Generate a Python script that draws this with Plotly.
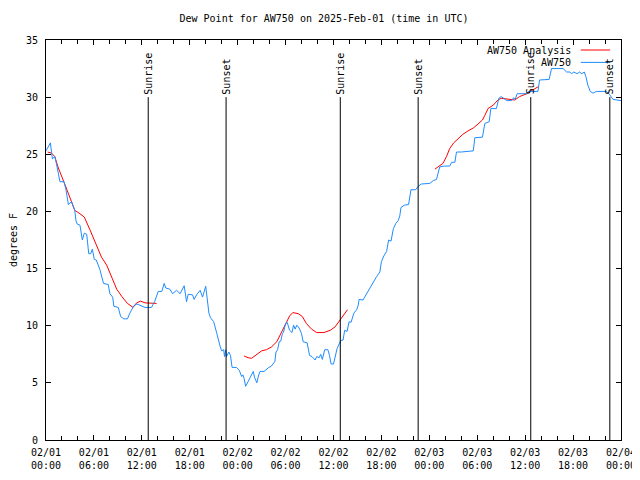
import pandas as pd
import plotly.graph_objects as go

title_text = "Dew Point for AW750 on 2025-Feb-01 (time in UTC)"
start = pd.Timestamp("2025-02-01 00:00")

# AW750 observations (hours since start, degrees F)
obs_hours = [0.0, 0.3, 0.55, 0.8, 1.1, 1.3, 1.75, 2.25, 2.5, 2.8, 3.2, 3.6, 3.75, 3.9, 4.25, 4.55, 4.8, 5.1,
             5.35, 5.6, 5.8, 6.05, 6.3, 6.75, 7.2, 7.8, 8.0, 8.35, 8.5, 9.05, 9.35, 9.75, 10.2, 10.5, 11.0,
             11.4, 12.0, 12.4, 13.2, 13.6, 14.05, 14.5, 14.8, 15.0, 15.5, 15.85, 16.35, 16.8, 17.3, 17.6,
             17.8, 18.35, 18.55, 18.85, 19.3, 19.6, 20.0, 20.2, 20.4, 20.6, 21.0, 21.4, 21.55, 21.8, 22.0,
             22.25, 22.35, 22.5, 22.6, 22.9, 23.1, 23.3, 23.85, 24.2, 24.5, 24.65, 24.8, 25.0, 25.3, 25.6,
             25.95, 26.1, 26.4, 26.6, 26.8, 27.3, 27.6, 27.9, 28.2, 28.65, 28.8, 29.0, 29.2, 29.4, 29.6,
             29.75, 30.0, 30.2, 30.5, 30.8, 31.0, 31.2, 31.4, 31.7, 32.0, 32.2, 32.7, 33.0, 33.3, 33.7,
             33.9, 34.2, 34.4, 34.6, 34.9, 35.3, 35.5, 35.7, 36.0, 36.2, 36.45, 36.7, 36.9, 37.2, 37.4,
             37.7, 37.95, 38.2, 38.55, 38.9, 39.1, 39.2, 39.7, 39.9, 40.15, 40.55, 40.95, 41.4, 41.8, 42.0,
             42.3, 42.65, 42.9, 43.2, 43.5, 43.8, 44.1, 44.3, 44.45, 44.9, 45.4, 45.7, 46.3, 46.6, 47.0,
             48.05, 48.5, 48.9, 49.3, 49.9, 50.55, 50.8, 51.2, 51.4, 52.0, 53.5, 53.7, 54.65, 54.95, 55.5,
             55.7, 56.4, 56.7, 57.0, 57.3, 57.7, 58.3, 58.55, 58.75, 59.0, 60.2, 60.4, 61.6, 61.8, 63.0,
             63.2, 63.3, 64.75, 65.2, 65.6, 65.8, 66.1, 66.5, 66.8, 67.1, 67.4, 67.6, 67.85, 68.15, 68.5,
             68.9, 70.2, 70.6, 71.0, 71.4, 71.75, 72.0]
obs_values = [25.3, 25.7, 26.0, 24.6, 24.8, 24.2, 22.6, 22.6, 21.9, 20.6, 20.85, 20.1, 19.2, 18.9, 18.8, 17.5,
              18.1, 18.0, 16.3, 16.3, 16.7, 15.8, 15.75, 14.9, 13.7, 13.6, 12.8, 12.5, 11.7, 11.6, 10.8,
              10.6, 10.6, 11.1, 11.75, 11.9, 11.75, 11.6, 11.6, 12.1, 13.0, 13.0, 13.7, 13.3, 13.2, 12.8,
              13.1, 12.8, 13.5, 12.1, 12.75, 12.7, 12.3, 12.7, 13.1, 12.5, 13.45, 12.0, 11.1, 10.7, 10.35,
              9.3, 8.8, 8.2, 7.8, 7.9, 7.3, 7.9, 7.3, 7.7, 7.4, 6.35, 6.35, 6.1, 5.55, 5.7, 5.4, 4.7, 5.1,
              5.55, 6.0, 5.5, 5.0, 5.6, 6.0, 6.0, 6.2, 6.35, 6.45, 6.85, 7.7, 7.9, 8.6, 8.65, 9.3, 9.45,
              10.2, 10.3, 9.6, 9.4, 10.05, 9.7, 10.05, 9.8, 9.3, 8.6, 8.5, 7.4, 7.3, 7.0, 7.3, 7.2, 7.5,
              7.05, 7.9, 7.9, 7.4, 6.65, 6.65, 7.35, 8.0, 8.4, 8.7, 8.75, 9.6, 9.5, 10.35, 10.3, 11.1,
              11.4, 11.8, 12.3, 12.25, 12.5, 12.8, 13.4, 13.8, 14.3, 14.7, 15.6, 16.1, 16.5, 17.5, 17.4,
              18.5, 18.95, 19.2, 19.6, 20.35, 20.55, 20.6, 21.9, 21.9, 22.2, 22.4, 22.45, 22.7, 22.8, 23.9,
              23.97, 23.97, 24.3, 24.3, 25.2, 25.2, 25.3, 26.45, 26.5, 27.7, 27.85, 29.0, 29.0, 29.9,
              30.05, 29.9, 29.7, 29.7, 29.95, 29.8, 30.3, 30.3, 30.5, 30.5, 31.5, 31.55, 32.2, 32.5, 32.5,
              32.2, 32.2, 32.05, 32.2, 32.05, 32.2, 32.05, 32.2, 31.8, 31.05, 30.5, 30.35, 30.5, 30.5,
              30.2, 29.8, 29.75, 29.7, 29.7]

# AW750 Analysis (None marks a gap)
ana_hours = [0.2, 0.7, 1.1, 1.55, 2.4, 3.0, 3.6, 4.25, 4.8, 5.5, 6.35, 6.95, 7.6, 8.2, 8.85, 9.5, 10.2, 10.9,
             11.35, 11.85, 12.4, 13.85, 13.9,
             24.8, 25.3, 25.75, 26.35, 27.0, 27.6, 28.25, 28.9, 29.5, 30.1, 30.5, 30.9, 31.6, 32.1, 32.6,
             33.25, 33.9, 34.8, 35.6, 36.2, 36.8, 37.3, 37.75, 37.8,
             48.7, 49.3, 49.7, 50.15, 50.55, 51.05, 51.6, 52.2, 52.85, 53.5, 54.1, 54.65, 54.95, 55.35,
             56.0, 56.6, 57.0, 57.9, 58.7, 59.3, 60.2, 60.65, 61.6]
ana_values = [25.2, 25.1, 24.8, 23.8, 22.3, 21.15, 20.1, 19.8, 19.5, 18.4, 16.9, 16.0, 15.3, 14.3, 13.2, 12.55,
              11.95, 11.6, 12.0, 12.15, 12.0, 11.95, None,
              7.35, 7.2, 7.15, 7.5, 7.8, 7.9, 8.15, 8.6, 9.5, 10.35, 10.85, 11.15, 11.05, 10.8, 10.2, 9.7,
              9.4, 9.4, 9.6, 9.9, 10.5, 10.95, 11.4, None,
              23.7, 24.05, 24.2, 24.8, 25.5, 26.0, 26.4, 26.75, 27.05, 27.3, 27.65, 28.0, 28.4, 29.0, 29.3,
              29.75, 29.9, 29.8, 29.75, 30.05, 30.3, 30.5, 30.9]

# Sunrise / sunset (hours since start)
event_hours = [12.8, 22.55, 36.85, 46.6, 60.7, 70.6]
event_labels = ["Sunrise", "Sunset", "Sunrise", "Sunset", "Sunrise", "Sunset"]

y_ticks = [0, 5, 10, 15, 20, 25, 30, 35]
legend_names = ["AW750 Analysis", "AW750"]
RED = "#ff0000"
BLUE = "#1f8cff"
FONT = "DejaVu Sans Mono"


def to_time(h):
    return start + pd.to_timedelta(h, unit="h")


fig = go.Figure()
fig.add_trace(go.Scatter(x=[to_time(h) for h in ana_hours], y=ana_values, mode="lines",
                         line=dict(color=RED, width=1), name=legend_names[0], connectgaps=False))
fig.add_trace(go.Scatter(x=[to_time(h) for h in obs_hours], y=obs_values, mode="lines",
                         line=dict(color=BLUE, width=1), name=legend_names[1]))

for h, lab in zip(event_hours, event_labels):
    fig.add_shape(type="line", xref="x", yref="y", x0=to_time(h), x1=to_time(h), y0=0, y1=30.0,
                  line=dict(color="black", width=1))
    fig.add_annotation(x=to_time(h), y=30.05, xref="x", yref="y", text=lab, textangle=-90,
                       showarrow=False, xanchor="center", yanchor="bottom",
                       font=dict(family=FONT, size=10, color="black"))

# legend (gnuplot style: text, then sample)
for i, (name, col) in enumerate(zip(legend_names, [RED, BLUE])):
    yp = 0.975 - i * 0.031
    fig.add_annotation(x=0.917, y=yp, xref="paper", yref="paper", text=name, showarrow=False,
                       xanchor="right", yanchor="middle", font=dict(family=FONT, size=10, color="black"))
    fig.add_shape(type="line", xref="paper", yref="paper", x0=0.93, x1=0.981, y0=yp, y1=yp,
                  line=dict(color=col, width=1))

# the page body adds an 8 px offset, so the figure is 632x472
fig.update_layout(
    width=632, height=472,
    margin=dict(l=38, r=19, t=32, b=40, autoexpand=False),
    paper_bgcolor="white", plot_bgcolor="white",
    showlegend=False,
    font=dict(family=FONT, size=10, color="black"),
    title=dict(text=title_text, x=0.5, xanchor="center", y=0.977, yanchor="middle",
               font=dict(family=FONT, size=10, color="black"), automargin=False),
)
fig.update_xaxes(
    type="date", range=[to_time(0), to_time(72)], automargin=False,
    dtick=6 * 3600 * 1000, tick0=to_time(0), tickformat="%m/%d<br>%H:%M",
    ticks="inside", ticklen=5, tickcolor="black", showgrid=False, zeroline=False,
    showline=True, linecolor="black", linewidth=1, mirror="ticks",
    minor=dict(dtick=2 * 3600 * 1000, ticks="inside", ticklen=4, tickcolor="black", showgrid=False),
    tickfont=dict(family=FONT, size=10), ticklabelstandoff=3,
)
fig.update_yaxes(
    range=[0, 35], tickvals=y_ticks, ticks="inside", ticklen=5, tickcolor="black", automargin=False,
    showgrid=False, zeroline=False, showline=True, linecolor="black", linewidth=1, mirror="ticks",
    tickfont=dict(family=FONT, size=10), ticklabelstandoff=5,
    title=dict(text="degrees F", font=dict(family=FONT, size=10), standoff=10),
)

fig.write_html("out.html")
